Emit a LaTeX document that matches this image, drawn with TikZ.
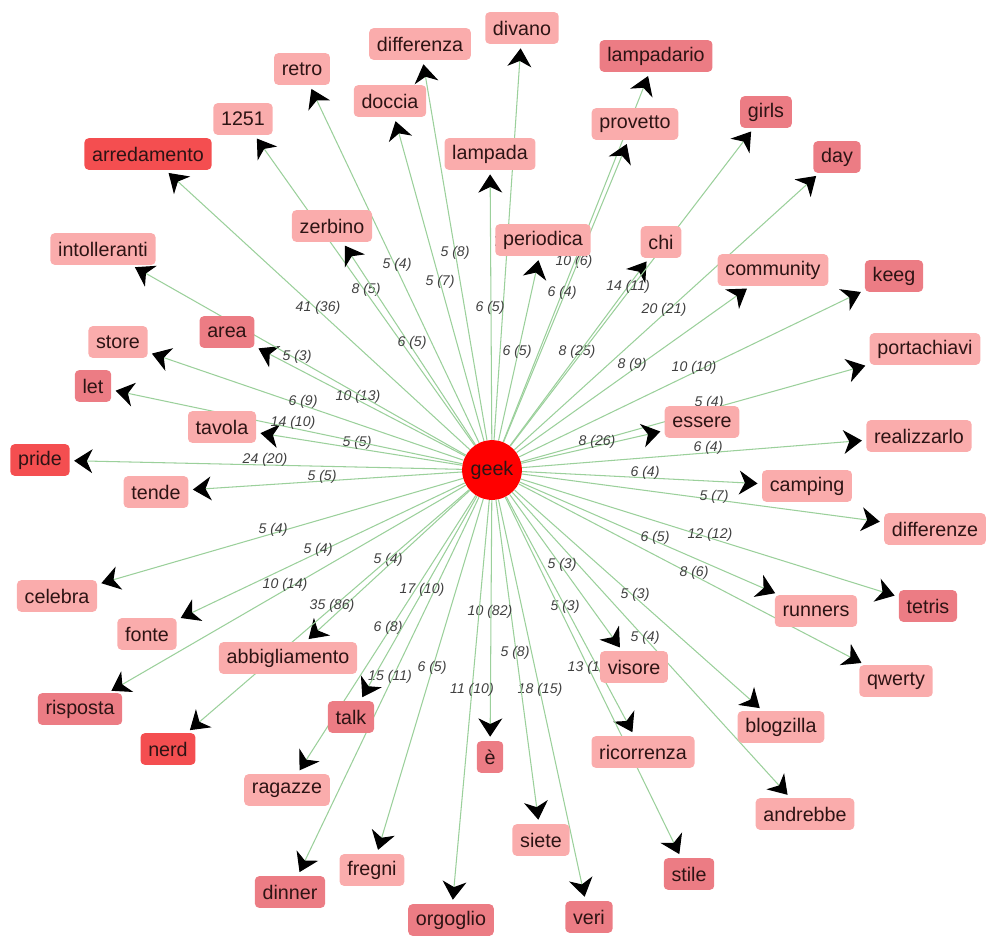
\documentclass[tikz,border=0pt]{standalone}
\usepackage{fontspec}
\setmainfont{Liberation Sans}
\usetikzlibrary{arrows.meta,backgrounds}

\definecolor{lightnode}{RGB}{250,172,172}
\definecolor{midnode}{RGB}{236,124,132}
\definecolor{hotnode}{RGB}{244,78,80}
\definecolor{linkgreen}{RGB}{155,208,155}
\definecolor{wordtext}{RGB}{45,20,20}

\tikzset{
  word/.style={rectangle, rounded corners=3pt, fill=#1, text=wordtext,
    font=\fontsize{14}{16}\selectfont, minimum height=22.5pt, inner xsep=5.5pt},
  word/.default=lightnode,
  link/.style={draw=linkgreen, line width=0.75pt,
    -{Stealth[length=13pt,width=17pt,inset=4pt,color=black]}, shorten >=3pt},
  elabel/.style={font=\fontsize{10}{12}\selectfont\itshape, text=black!75}
}

\begin{document}
\begin{tikzpicture}[x=0.025cm, y=-0.025cm]
    \useasboundingbox (0,0) rectangle (987,936);
    % centre
    \node[circle, fill=red, minimum size=42.5pt, inner sep=0pt, text=wordtext,
          font=\fontsize{14}{16}\selectfont] (geek) at (492,470) {geek};
    % upper half
    \node[word=hotnode] (arredamento) at (148,154) {arredamento};
    \node[word] (n1251) at (243,119) {1251};
    \node[word] (retro) at (302,69) {retro};
    \node[word] (differenza) at (420,44) {differenza};
    \node[word] (divano) at (522,28) {divano};
    \node[word] (doccia) at (390,101) {doccia};
    \node[word=midnode] (lampadario) at (656,56) {lampadario};
    \node[word] (provetto) at (635,124) {provetto};
    \node[word] (lampada) at (490,154) {lampada};
    \node[word=midnode] (girls) at (766,112) {girls};
    \node[word=midnode] (day) at (837,157) {day};
    \node[word] (zerbino) at (332,226) {zerbino};
    \node[word] (periodica) at (543,240) {periodica};
    \node[word] (chi) at (661,242) {chi};
    \node[word] (community) at (773,270) {community};
    \node[word=midnode] (keeg) at (894,276) {keeg};
    \node[word] (portachiavi) at (925,349) {portachiavi};
    \node[word] (realizzarlo) at (919,436) {realizzarlo};
    \node[word] (essere) at (702,422) {essere};
    \node[word] (intolleranti) at (103,249) {intolleranti};
    \node[word=midnode] (area) at (227,332) {area};
    \node[word] (store) at (118,342) {store};
    \node[word=midnode] (let) at (93,386) {let};
    \node[word] (tavola) at (222,427) {tavola};
    \node[word=hotnode] (pride) at (40,460) {pride};
    % lower half
    \node[word] (tende) at (156,492) {tende};
    \node[word] (camping) at (807,486) {camping};
    \node[word] (differenze) at (935,529) {differenze};
    \node[word=midnode] (tetris) at (928,606) {tetris};
    \node[word] (runners) at (816,611) {runners};
    \node[word] (qwerty) at (896,681) {qwerty};
    \node[word] (visore) at (634,667) {visore};
    \node[word] (blogzilla) at (781,727) {blogzilla};
    \node[word] (ricorrenza) at (643,752) {ricorrenza};
    \node[word] (andrebbe) at (805,814) {andrebbe};
    \node[word=midnode] (stile) at (689,874) {stile};
    \node[word=midnode] (veri) at (589,917) {veri};
    \node[word] (siete) at (541,840) {siete};
    \node[word=midnode] (egrave) at (490,757) {è};
    \node[word=midnode] (orgoglio) at (451,920) {orgoglio};
    \node[word] (fregni) at (372,870) {fregni};
    \node[word=midnode] (talk) at (351,717) {talk};
    \node[word=midnode] (dinner) at (290,892) {dinner};
    \node[word] (ragazze) at (287,790) {ragazze};
    \node[word=hotnode] (nerd) at (168,749) {nerd};
    \node[word=midnode] (risposta) at (80,709) {risposta};
    \node[word] (abbigliamento) at (288,658) {abbigliamento};
    \node[word] (fonte) at (147,634) {fonte};
    \node[word] (celebra) at (57,596) {celebra};

    \begin{pgfonlayer}{background}
    \draw[link] (geek) -- (arredamento) node[elabel] at (318,308) {41 (36)};
    \draw[link] (geek) -- (n1251) node[elabel] at (366,290) {8 (5)};
    \draw[link] (geek) -- (retro) node[elabel] at (397,265) {5 (4)};
    \draw[link] (geek) -- (differenza) node[elabel] at (455,253) {5 (8)};
    \draw[link] (geek) -- (doccia) node[elabel] at (440,282) {5 (7)};
    \draw[link] (geek) -- (zerbino) node[elabel] at (412,343) {6 (5)};
    \draw[link] (geek) -- (divano) node[elabel] at (508,243) {7 (8)};
    \draw[link] (geek) -- (lampada) node[elabel] at (490,308) {6 (5)};
    \draw[link] (geek) -- (lampadario) node[elabel] at (574,262) {10 (6)};
    \draw[link] (geek) -- (provetto) node[elabel] at (562,293) {6 (4)};
    \draw[link] (geek) -- (periodica) node[elabel] at (517,352) {6 (5)};
    \draw[link] (geek) -- (chi) node[elabel] at (577,352) {8 (25)};
    \draw[link] (geek) -- (girls) node[elabel] at (628,287) {14 (11)};
    \draw[link] (geek) -- (day) node[elabel] at (664,310) {20 (21)};
    \draw[link] (geek) -- (community) node[elabel] at (632,365) {8 (9)};
    \draw[link] (geek) -- (keeg) node[elabel] at (694,368) {10 (10)};
    \draw[link] (geek) -- (portachiavi) node[elabel] at (709,403) {5 (4)};
    \draw[link] (geek) -- (essere) node[elabel] at (597,442) {8 (26)};
    \draw[link] (geek) -- (realizzarlo) node[elabel] at (708,448) {6 (4)};
    \draw[link] (geek) -- (camping) node[elabel] at (645,473) {6 (4)};
    \draw[link] (geek) -- (differenze) node[elabel] at (714,497) {5 (7)};
    \draw[link] (geek) -- (tetris) node[elabel] at (710,535) {12 (12)};
    \draw[link] (geek) -- (runners) node[elabel] at (655,538) {6 (5)};
    \draw[link] (geek) -- (qwerty) node[elabel] at (694,573) {8 (6)};
    \draw[link] (geek) -- (blogzilla) node[elabel] at (635,595) {5 (3)};
    \draw[link] (geek) -- (andrebbe) node[elabel] at (645,638) {5 (4)};
    \draw[link] (geek) -- (visore) node[elabel] at (562,565) {5 (3)};
    \draw[link] (geek) -- (ricorrenza) node[elabel] at (565,607) {5 (3)};
    \draw[link] (geek) -- (stile) node[elabel] at (590,668) {13 (18)};
    \draw[link] (geek) -- (veri) node[elabel] at (540,690) {18 (15)};
    \draw[link] (geek) -- (siete) node[elabel] at (515,653) {5 (8)};
    \draw[link] (geek) -- (egrave) node[elabel] at (490,612) {10 (82)};
    \draw[link] (geek) -- (orgoglio) node[elabel] at (472,690) {11 (10)};
    \draw[link] (geek) -- (fregni) node[elabel] at (432,668) {6 (5)};
    \draw[link] (geek) -- (dinner) node[elabel] at (390,677) {15 (11)};
    \draw[link] (geek) -- (ragazze) node[elabel] at (388,628) {6 (8)};
    \draw[link] (geek) -- (talk) node[elabel] at (422,590) {17 (10)};
    \draw[link] (geek) -- (abbigliamento) node[elabel] at (388,560) {5 (4)};
    \draw[link] (geek) -- (nerd) node[elabel] at (332,606) {35 (86)};
    \draw[link] (geek) -- (risposta) node[elabel] at (285,585) {10 (14)};
    \draw[link] (geek) -- (fonte) node[elabel] at (318,550) {5 (4)};
    \draw[link] (geek) -- (celebra) node[elabel] at (273,530) {5 (4)};
    \draw[link] (geek) -- (tende) node[elabel] at (322,477) {5 (5)};
    \draw[link] (geek) -- (pride) node[elabel] at (265,460) {24 (20)};
    \draw[link] (geek) -- (tavola) node[elabel] at (357,443) {5 (5)};
    \draw[link] (geek) -- (let) node[elabel] at (293,423) {14 (10)};
    \draw[link] (geek) -- (store) node[elabel] at (303,402) {6 (9)};
    \draw[link] (geek) -- (area) node[elabel] at (358,397) {10 (13)};
    \draw[link] (geek) -- (intolleranti) node[elabel] at (297,357) {5 (3)};
    \end{pgfonlayer}
\end{tikzpicture}
\end{document}
